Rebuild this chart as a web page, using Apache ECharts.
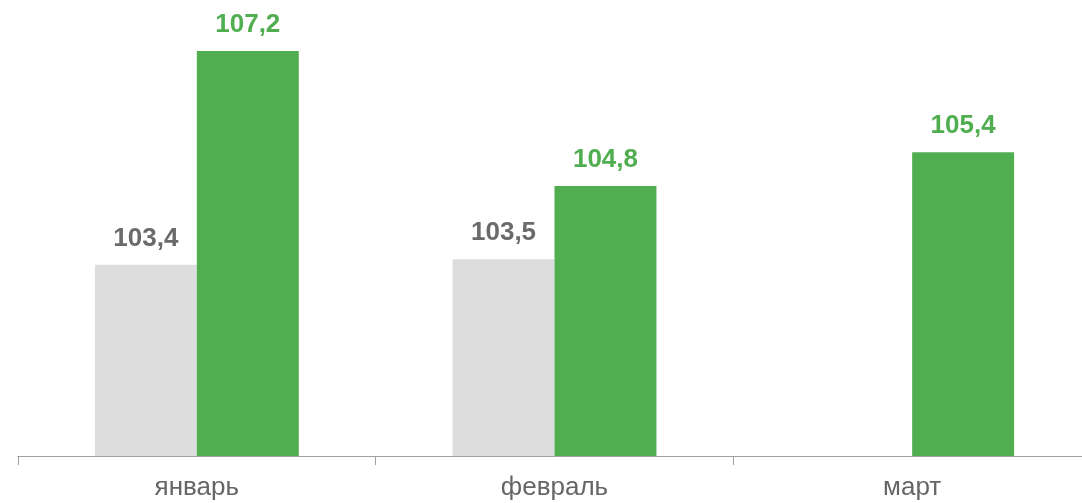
<!DOCTYPE html>
<html>
<head>
<meta charset="utf-8">
<script src="https://cdn.jsdelivr.net/npm/echarts@6/dist/echarts.min.js"></script>
<style>
html,body{margin:0;padding:0;background:#fff;overflow:hidden;width:1082px;height:503px;}
#c{width:1091px;height:503px;}
</style>
</head>
<body>
<div id="c"></div>
<script>
var categories = ['январь', 'февраль', 'март'];
var prevYear = [103.4, 103.5, 100];
var curYear = [107.2, 104.8, 105.4];
var labelShown = [true, true, false];

var chart = echarts.init(document.getElementById('c'), null, {renderer: 'canvas'});
function fmt(p) { return p.value.toFixed(1).replace('.', ','); }
var FONT = '"Liberation Sans", Arial, sans-serif';
chart.setOption({
  animation: false,
  backgroundColor: '#ffffff',
  grid: {left: 18, right: 0, top: 6, bottom: 47},
  xAxis: {
    type: 'category',
    data: categories,
    axisLine: {lineStyle: {color: '#a0a0a0', width: 1}},
    axisTick: {show: true, length: 9, lineStyle: {color: '#a0a0a0'}},
    axisLabel: {color: '#666666', fontSize: 26, fontFamily: FONT, margin: 19}
  },
  yAxis: {
    type: 'value', min: 100, max: 108,
    show: false,
    splitLine: {show: false}
  },
  series: [
    {
      type: 'bar',
      data: prevYear.map(function (v, i) {
        return {value: v, label: {show: labelShown[i]}};
      }),
      barGap: '0%',
      barCategoryGap: '43%',
      barMinHeight: 2,
      itemStyle: {color: '#dddddd'},
      label: {show: true, position: 'top', distance: 13, formatter: fmt,
        color: '#6b6b6b', fontSize: 26, fontWeight: 'bold', fontFamily: FONT}
    },
    {
      type: 'bar',
      data: curYear,
      barGap: '0%',
      barCategoryGap: '43%',
      itemStyle: {color: '#50ae50'},
      label: {show: true, position: 'top', distance: 13, formatter: fmt,
        color: '#50ae50', fontSize: 26, fontWeight: 'bold', fontFamily: FONT}
    }
  ]
});
</script>
</body>
</html>
